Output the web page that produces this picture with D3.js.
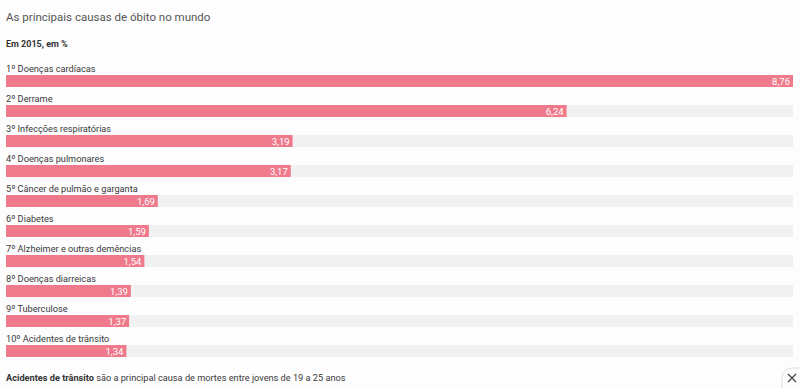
<!DOCTYPE html>
<html>
<head>
<meta charset="utf-8">
<script src="https://cdn.jsdelivr.net/npm/d3@7"></script>
<style>
  body { margin: 0; background: #fdfdfd; }
  svg { display: block; font-family: Roboto, "Noto Sans", sans-serif; }
</style>
</head>
<body>
<svg id="chart" width="800" height="388"></svg>
<script>
const causes = [
  '1º Doenças cardíacas',
  '2º Derrame',
  '3º Infecções respiratórias',
  '4º Doenças pulmonares',
  '5º Câncer de pulmão e garganta',
  '6º Diabetes',
  '7º Alzheimer e outras demências',
  '8º Doenças diarreicas',
  '9º Tuberculose',
  '10º Acidentes de trânsito'
]
const shares = [8.76, 6.24, 3.19, 3.17, 1.69, 1.59, 1.54, 1.39, 1.37, 1.34]

const svg = d3.select('#chart')
const marginLeft = 6
const marginRight = 793
const firstBar = 75
const step = 30
const barH = 12

const x = d3.scaleLinear().domain([0, d3.max(shares)]).range([marginLeft, marginRight])
const y = d3.scaleBand().domain(causes).range([firstBar, firstBar + step * causes.length]).paddingInner(0)
const fmt = v => d3.format('.2f')(v).replace('.', ',')

svg.append('text')
  .attr('x', 6).attr('y', 21)
  .attr('font-size', 11.5)
  .attr('fill', '#555')
  .text('As principais causas de óbito no mundo')

svg.append('text')
  .attr('x', 6).attr('y', 47)
  .attr('font-size', 9)
  .attr('font-weight', 'bold')
  .attr('fill', '#333')
  .text('Em 2015, em %')

const row = svg.selectAll('g.row')
  .data(causes)
  .join('g')
  .attr('class', 'row')
  .attr('transform', d => 'translate(0,' + y(d) + ')')

row.append('rect')
  .attr('x', marginLeft)
  .attr('width', marginRight - marginLeft)
  .attr('height', barH)
  .attr('fill', '#f1f1f1')

row.append('rect')
  .attr('x', marginLeft)
  .attr('width', (d, i) => x(shares[i]) - marginLeft)
  .attr('height', barH)
  .attr('fill', '#ee7a8c')

row.append('text')
  .attr('x', marginLeft)
  .attr('y', -3)
  .attr('font-size', 9.2)
  .attr('fill', '#3a3a3a')
  .text(d => d)

row.append('text')
  .attr('x', (d, i) => x(shares[i]) - 3)
  .attr('y', barH - 2)
  .attr('text-anchor', 'end')
  .attr('font-size', 9.5)
  .attr('fill', '#fff')
  .text((d, i) => fmt(shares[i]))

const foot = svg.append('text')
  .attr('x', 6).attr('y', 381)
  .attr('font-size', 9.2)
  .attr('fill', '#3a3a3a')
foot.append('tspan').attr('font-weight', 'bold').attr('fill', '#333').text('Acidentes de trânsito')
foot.append('tspan').text(' são a principal causa de mortes entre jovens de 19 a 25 anos')

// close button in the corner
svg.append('path')
  .attr('d', 'M782,388 L782,378 A10,10 0 0 1 792,368 L800,368')
  .attr('fill', 'none')
  .attr('stroke', '#ddd')
svg.append('path')
  .attr('d', 'M788,374 L796,382 M796,374 L788,382')
  .attr('stroke', '#444')
  .attr('stroke-width', 1.3)
</script>
</body>
</html>
